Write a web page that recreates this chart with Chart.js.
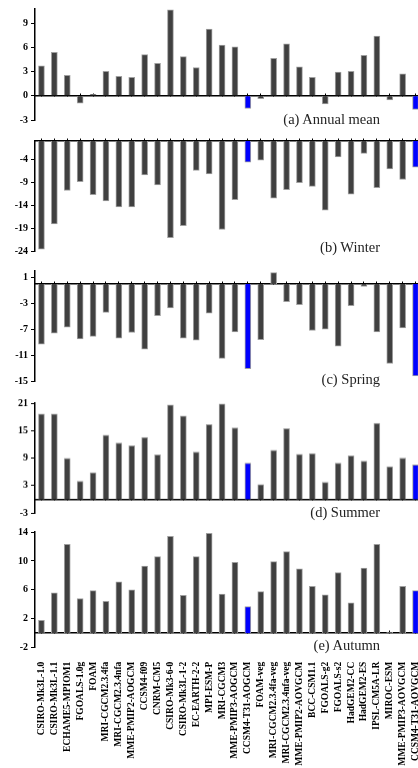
<!DOCTYPE html>
<html><head><meta charset="utf-8">
<script src="https://cdn.jsdelivr.net/npm/chart.js@4.4.1/dist/chart.umd.min.js"></script>
<style>
html,body{margin:0;padding:0;background:#fff;overflow:hidden;width:418px;height:768px;}
#wrap{position:relative;width:418px;height:768px;overflow:hidden;}
canvas{position:absolute;left:0;}
.ttl{position:absolute;font-family:"Liberation Serif","Times New Roman",serif;font-size:14.5px;color:#222;white-space:nowrap;text-align:right;right:38px;line-height:16px;}
</style></head><body>
<div id="wrap">
<canvas id="cA"></canvas><canvas id="cB"></canvas><canvas id="cC"></canvas><canvas id="cD"></canvas><canvas id="cE"></canvas>
<div class="ttl" style="top:111px">(a) Annual mean</div>
<div class="ttl" style="top:239px">(b) Winter</div>
<div class="ttl" style="top:371px">(c) Spring</div>
<div class="ttl" style="top:504px">(d) Summer</div>
<div class="ttl" style="top:637px">(e) Autumn</div>
</div>
<script>
const categories = ["CSIRO-Mk3L-1.0","CSIRO-Mk3L-1.1","ECHAME5-MPIOM1","FGOALS-1.0g","FOAM","MRI-CGCM2.3.4fa","MRI-CGCM2.3.4nfa","MME-PMIP2-AOGCM","CCSM4-f09","CNRM-CM5","CSIRO-Mk3-6-0","CSIRO-Mk3L-1-2","EC-EARTH-2-2","MPI-ESM-P","MRI-CGCM3","MME-PMIP3-AOGCM","CCSM4-T31-AOGCM","FOAM-veg","MRI-CGCM2.3.4fa-veg","MRI-CGCM2.3.4nfa-veg","MME-PMIP2-AOVGCM","BCC-CSM1.1","FGOALS-g2","FGOALS-s2","HadGEM2-CC","HadGEM2-ES","IPSL-CM5A-LR","MIROC-ESM","MME-PMIP3-AOVGCM","CCSM4-T31-AOVGCM"];
const highlighted = ["CCSM4-T31-AOGCM","CCSM4-T31-AOVGCM"];

const annualValues = [3.73,5.41,2.55,-0.92,0.2,3.04,2.43,2.3,5.12,4.06,10.7,4.87,3.53,8.3,6.3,6.1,-1.57,-0.34,4.67,6.47,3.61,2.3,-1.0,2.96,3.04,5.04,7.44,-0.5,2.75,-1.69];
const winterValues = [-23.6,-18.1,-10.8,-8.9,-11.7,-13.1,-14.4,-14.4,-7.4,-9.6,-21.1,-18.5,-6.4,-7.2,-19.3,-12.8,-4.6,-4.2,-12.5,-10.6,-9.1,-9.9,-15.1,-3.5,-11.6,-2.7,-10.2,-6.1,-8.4,-5.7];
const springValues = [-9.3,-7.6,-6.7,-8.5,-8.1,-4.4,-8.4,-7.5,-10.1,-4.9,-3.7,-8.4,-8.7,-4.5,-11.5,-7.4,-13.1,-8.6,1.76,-2.75,-3.2,-7.2,-7.0,-9.6,-3.35,-0.4,-7.4,-12.3,-6.8,-14.2];
const summerValues = [18.6,18.6,8.9,3.9,5.8,14.0,12.3,11.7,13.5,9.7,20.6,18.2,10.3,16.3,20.8,15.6,7.9,3.2,10.7,15.4,9.8,9.96,3.7,7.9,9.5,8.3,16.6,7.1,9.0,7.5];
const autumnValues = [1.8,5.6,12.3,4.8,5.9,4.4,7.1,6.0,9.3,10.6,13.4,5.25,10.6,13.8,5.4,9.8,3.7,5.75,9.9,11.3,8.9,6.5,5.3,8.4,4.2,9.0,12.3,0.15,6.5,5.9];

const annualTicks = [-3,0,3,6,9];
const winterTicks = [-24,-19,-14,-9,-4];
const springTicks = [-15,-11,-7,-3,1];
const summerTicks = [-3,3,9,15,21];
const autumnTicks = [-2,2,6,10,14];

const annualRange = [-3,10.8];
const winterRange = [-24,0];
const springRange = [-15,2];
const summerRange = [-3,21];
const autumnRange = [-2,14];

const SERIF = '"Liberation Serif","Times New Roman",serif';
const GRAY = '#404040', BLUE = '#0000ff', EDGE = '#a0a0a0';
const CANVAS_W = 422, PAD = 8, YAXIS_W = 35;

function makePanel(id, values, range, ticks, plotTop, plotHeight, isLast) {
  const cv = document.getElementById(id);
  const top = plotTop - PAD;
  const h = isLast ? 768 - top : plotHeight + 2 * PAD;
  const xAxisH = isLast ? 768 - (plotTop + plotHeight) : 0;
  cv.style.top = top + 'px';
  cv.width = CANVAS_W; cv.height = h;
  cv.style.width = CANVAS_W + 'px'; cv.style.height = h + 'px';
  const xMain = isLast ? {
    type:'category', position:'bottom', offset:true,
    grid:{display:false}, border:{display:false},
    ticks:{autoSkip:false, minRotation:90, maxRotation:90, padding:6, color:'#000',
      font:{family:SERIF, size:9.5, weight:'bold'}},
    afterFit: s => { s.height = xAxisH; s.paddingLeft = 0; s.paddingRight = 0; }
  } : {type:'category', display:false, offset:true};
  new Chart(cv, {
    type:'bar',
    data:{labels:categories, datasets:[{
      data:values, xAxisID:'x', yAxisID:'y',
      backgroundColor: c => highlighted.includes(categories[c.dataIndex]) ? BLUE : GRAY,
      borderColor: EDGE, borderWidth:1, barThickness:6
    }]},
    options:{
      responsive:false, animation:false, devicePixelRatio:1,
      layout:{padding:{top:PAD, bottom:isLast?0:PAD, left:0, right:0}},
      plugins:{legend:{display:false}, tooltip:{enabled:false}},
      scales:{
        x: xMain,
        x0:{type:'category', position:{y:0}, offset:true,
          grid:{display:true, drawOnChartArea:false, drawTicks:true, tickLength:-3, offset:false, color:'#000', lineWidth:1},
          ticks:{display:false}, border:{display:true, color:'#000', width:1.5}},
        y:{type:'linear', position:'left', min:range[0], max:range[1],
          afterBuildTicks: s => { s.ticks = ticks.map(v => ({value:v})); },
          afterFit: s => { s.width = YAXIS_W; },
          grid:{display:true, drawOnChartArea:false, drawTicks:true, tickLength:4, tickColor:'#000'},
          border:{display:true, color:'#000', width:1.5},
          ticks:{autoSkip:false, padding:3, color:'#000', font:{family:SERIF, size:10, weight:'bold'}}
        }
      }
    }
  });
}

makePanel('cA', annualValues, annualRange, annualTicks, 8, 113, false);
makePanel('cB', winterValues, winterRange, winterTicks, 139.5, 112.5, false);
makePanel('cC', springValues, springRange, springTicks, 270, 112.3, false);
makePanel('cD', summerValues, summerRange, summerTicks, 402.3, 111.7, false);
makePanel('cE', autumnValues, autumnRange, autumnTicks, 531, 116.7, true);
</script>
</body></html>
